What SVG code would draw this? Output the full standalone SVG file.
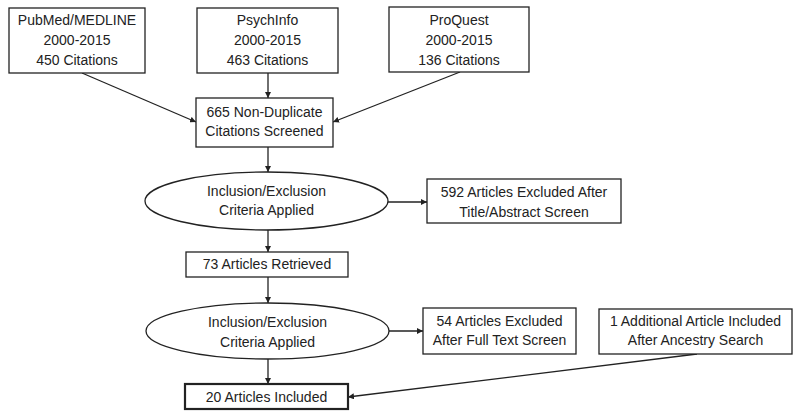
<svg xmlns="http://www.w3.org/2000/svg" width="793" height="414" viewBox="0 0 793 414">
<defs>
<marker id="arr" viewBox="0 0 8 8" refX="8" refY="4" markerWidth="6" markerHeight="6" markerUnits="userSpaceOnUse" orient="auto">
<path d="M0,0 L8,4 L0,8 z" fill="#222"/>
</marker>
<style>
.box{fill:#fff;stroke:#222;stroke-width:1.3}
.thick{stroke-width:2.2}
.t{font-family:"Liberation Sans",Arial,sans-serif;font-size:14px;fill:#222;text-anchor:middle}
.c{fill:none;stroke:#222;stroke-width:1.3;marker-end:url(#arr)}
</style>
</defs>
<rect width="793" height="414" fill="#fff"/>
<g id="connectors">
<line class="c" x1="82" y1="73" x2="196" y2="122"/>
<line class="c" x1="268" y1="73" x2="268" y2="98"/>
<line class="c" x1="460" y1="72" x2="333" y2="122"/>
<line class="c" x1="268" y1="147" x2="268" y2="172"/>
<line class="c" x1="388" y1="202" x2="427" y2="202"/>
<line class="c" x1="268" y1="230" x2="268" y2="252"/>
<line class="c" x1="268" y1="277" x2="268" y2="303"/>
<line class="c" x1="389" y1="331" x2="423" y2="331"/>
<line class="c" x1="268" y1="359" x2="268" y2="384"/>
<line class="c" x1="697" y1="354" x2="348" y2="397"/>
</g>
<g id="pubmed">
<rect class="box" x="9" y="8" width="136" height="65"/>
<text class="t" x="77" y="25">PubMed/MEDLINE</text>
<text class="t" x="77" y="45">2000-2015</text>
<text class="t" x="77" y="65">450 Citations</text>
</g>
<g id="psychinfo">
<rect class="box" x="197" y="8" width="141" height="65"/>
<text class="t" x="267.5" y="25">PsychInfo</text>
<text class="t" x="267.5" y="45">2000-2015</text>
<text class="t" x="267.5" y="65">463 Citations</text>
</g>
<g id="proquest">
<rect class="box" x="389" y="7" width="140" height="65"/>
<text class="t" x="459" y="25">ProQuest</text>
<text class="t" x="459" y="45">2000-2015</text>
<text class="t" x="459" y="65">136 Citations</text>
</g>
<g id="screened">
<rect class="box" x="196" y="98" width="137" height="49"/>
<text class="t" x="264.5" y="117">665 Non-Duplicate</text>
<text class="t" x="264.5" y="136">Citations Screened</text>
</g>
<g id="criteria1">
<ellipse class="box" cx="266.5" cy="201" rx="121.5" ry="29"/>
<text class="t" x="266.5" y="196">Inclusion/Exclusion</text>
<text class="t" x="266.5" y="215">Criteria Applied</text>
</g>
<g id="excluded592">
<rect class="box" x="427" y="179" width="194" height="44"/>
<text class="t" x="524" y="197">592 Articles Excluded After</text>
<text class="t" x="524" y="217">Title/Abstract Screen</text>
</g>
<g id="retrieved">
<rect class="box" x="186" y="252" width="162" height="25"/>
<text class="t" x="267" y="269">73 Articles Retrieved</text>
</g>
<g id="criteria2">
<ellipse class="box" cx="267.5" cy="331" rx="121.5" ry="28"/>
<text class="t" x="267.5" y="327">Inclusion/Exclusion</text>
<text class="t" x="267.5" y="347">Criteria Applied</text>
</g>
<g id="excluded54">
<rect class="box" x="423" y="308" width="153" height="46"/>
<text class="t" x="499.5" y="326">54 Articles Excluded</text>
<text class="t" x="499.5" y="345">After Full Text Screen</text>
</g>
<g id="ancestry">
<rect class="box" x="599" y="309" width="193" height="45"/>
<text class="t" x="695.5" y="326">1 Additional Article Included</text>
<text class="t" x="695.5" y="345">After Ancestry Search</text>
</g>
<g id="included">
<rect class="box thick" x="185" y="384" width="163" height="25"/>
<text class="t" x="266.5" y="402">20 Articles Included</text>
</g>
</svg>
